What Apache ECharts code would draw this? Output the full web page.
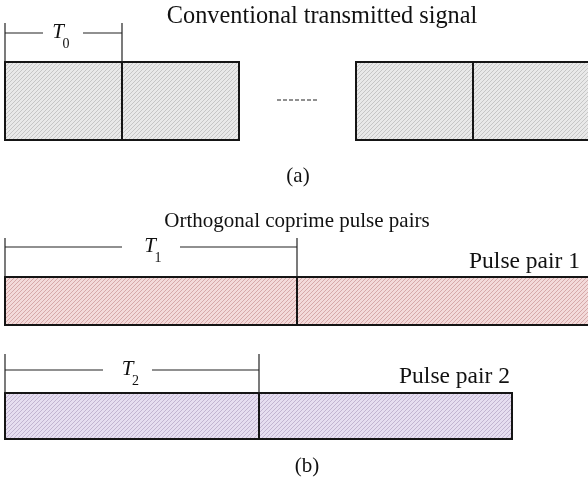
<!DOCTYPE html>
<html><head><meta charset="utf-8">
<script src="https://cdn.jsdelivr.net/npm/echarts@6/dist/echarts.min.js"></script>
<style>html,body{margin:0;padding:0;background:#fff}#c{width:588px;height:485px}</style>
</head><body><div id="c"></div>
<script>
// ---- data (time units along the horizontal axis) ----
const rowNames = ['Conventional transmitted signal', 'Pulse pair 1', 'Pulse pair 2'];
const segStart = [0, 117, 351, 468, 0, 292, 0, 254];
const segEnd   = [117, 234, 468, 585, 292, 620, 254, 507];
const segRow   = [0, 0, 0, 0, 1, 1, 2, 2];
const periodSub   = ['0', '1', '2'];
const periodStart = [0, 0, 0];
const periodEnd   = [117, 292, 254];
const periodRow   = [0, 1, 2];
const titles = ['Conventional transmitted signal', 'Orthogonal coprime pulse pairs'];
const captions = ['(a)', '(b)'];

// ---- layout (pixel-space vertical bands, styles) ----
const band = [
  {top: 62, bottom: 140, tick: 23, line: 33, gapL: 38, gapR: 78, lab: 53, fill: ['#e9e9e9', '#c6c6c6']},
  {top: 277, bottom: 325, tick: 238, line: 247, gapL: 117, gapR: 175, lab: 145, fill: ['#f3dada', '#d6a9a9']},
  {top: 393, bottom: 439, tick: 354, line: 370, gapL: 98, gapR: 147, lab: 122.5, fill: ['#e6def0', '#c2b5d1']}
];
function hatch(bg, fg) {
  const n = 4, c = document.createElement('canvas');
  c.width = n; c.height = n;
  const x = c.getContext('2d');
  x.fillStyle = bg; x.fillRect(0, 0, n, n);
  x.strokeStyle = fg; x.lineWidth = 1;
  x.beginPath();
  x.moveTo(0, n); x.lineTo(n, 0);
  x.moveTo(-1, 1); x.lineTo(1, -1);
  x.moveTo(n - 1, n + 1); x.lineTo(n + 1, n - 1);
  x.stroke();
  return c;
}
const patterns = band.map(b => ({image: hatch(b.fill[0], b.fill[1]), repeat: 'repeat'}));
const serif = '"Liberation Serif", "DejaVu Serif", serif';

const segData = segStart.map((s, i) => [s, segEnd[i], segRow[i]]);
const perData = periodStart.map((s, i) => [s, periodEnd[i], periodRow[i], i]);

const chart = echarts.init(document.getElementById('c'), null, {renderer: 'canvas'});
chart.setOption({
  animation: false,
  grid: {left: 5, right: 0, top: 0, bottom: 0},
  xAxis: {type: 'value', min: 0, max: 583, show: false},
  yAxis: {type: 'value', min: 0, max: 485, inverse: true, show: false},
  series: [
    {
      type: 'custom',
      data: segData,
      clip: false,
      renderItem(params, api) {
        const b = band[api.value(2)];
        const p0 = api.coord([api.value(0), b.top]);
        const p1 = api.coord([api.value(1), b.bottom]);
        return {
          type: 'rect',
          shape: {x: p0[0], y: p0[1], width: p1[0] - p0[0], height: p1[1] - p0[1]},
          style: {fill: patterns[api.value(2)], stroke: '#151515', lineWidth: 2}
        };
      }
    },
    {
      type: 'custom',
      data: perData,
      clip: false,
      renderItem(params, api) {
        const r = api.value(2), b = band[r];
        const s = api.coord([api.value(0), b.tick]);
        const e = api.coord([api.value(1), b.top]);
        const y = api.coord([0, b.line])[1];
        const gl = api.coord([api.value(0) + b.gapL, 0])[0];
        const gr = api.coord([api.value(0) + b.gapR, 0])[0];
        const cx = api.coord([api.value(0) + b.lab, 0])[0];
        const ls = {stroke: '#222', lineWidth: 1.2};
        return {
          type: 'group',
          children: [
            {type: 'line', shape: {x1: s[0], y1: s[1], x2: s[0], y2: e[1]}, style: ls},
            {type: 'line', shape: {x1: e[0], y1: s[1], x2: e[0], y2: e[1]}, style: ls},
            {type: 'line', shape: {x1: s[0], y1: y, x2: gl, y2: y}, style: ls},
            {type: 'line', shape: {x1: gr, y1: y, x2: e[0], y2: y}, style: ls},
            {type: 'text', x: cx, y: y + 10, style: {text: 'T', fontFamily: serif, fontStyle: 'italic', fontSize: 21, fill: '#111', align: 'center', verticalAlign: 'bottom'}},
            {type: 'text', x: cx + 8, y: y + 18, style: {text: periodSub[api.value(3)], fontFamily: serif, fontSize: 14, fill: '#111', align: 'center', verticalAlign: 'bottom'}}
          ]
        };
      }
    }
  ],
  graphic: [
    {type: 'text', x: 322, y: 17, style: {text: titles[0], fontFamily: serif, fontSize: 24.3, fill: '#111', align: 'center', verticalAlign: 'middle'}},
    {type: 'text', x: 297, y: 221, style: {text: titles[1], fontFamily: serif, fontSize: 21, fill: '#111', align: 'center', verticalAlign: 'middle'}},
    {type: 'text', x: 298, y: 176, style: {text: captions[0], fontFamily: serif, fontSize: 21, fill: '#111', align: 'center', verticalAlign: 'middle'}},
    {type: 'text', x: 307, y: 466, style: {text: captions[1], fontFamily: serif, fontSize: 21, fill: '#111', align: 'center', verticalAlign: 'middle'}},
    {type: 'text', x: 580, y: 262, style: {text: rowNames[1], fontFamily: serif, fontSize: 23.5, fill: '#111', align: 'right', verticalAlign: 'middle'}},
    {type: 'text', x: 510, y: 377, style: {text: rowNames[2], fontFamily: serif, fontSize: 23.5, fill: '#111', align: 'right', verticalAlign: 'middle'}},
    {type: 'line', shape: {x1: 277, y1: 100, x2: 318, y2: 100}, style: {stroke: '#222', lineWidth: 1.2, lineDash: [4, 2]}}
  ]
});
</script>
</body></html>
